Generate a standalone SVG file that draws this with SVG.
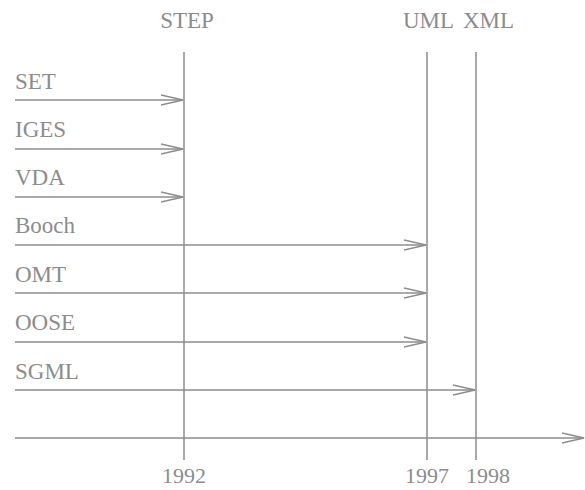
<svg xmlns="http://www.w3.org/2000/svg" width="585" height="490" viewBox="0 0 585 490">
<style>
.t{font-family:"Liberation Serif","Times New Roman",serif;font-size:23px;fill:#8c8c8c}
.y{font-size:22px}
.l{stroke:#8c8c8c;stroke-width:1.5;fill:none}
</style>
<defs>
<marker id="ah" markerUnits="userSpaceOnUse" markerWidth="24" markerHeight="14" refX="22" refY="6" orient="auto" viewBox="0 0 24 14">
<path d="M0,1 L22,6 L0,11" fill="none" stroke="#8c8c8c" stroke-width="1.5"/>
</marker>
</defs>
<rect width="585" height="490" fill="#fff"/>
<g id="milestones">
<g id="step"><text class="t" x="187" y="28" text-anchor="middle">STEP</text><line class="l" x1="184" y1="52" x2="184" y2="460"/><text class="t y" x="184" y="483" text-anchor="middle">1992</text></g>
<g id="uml"><text class="t" x="403" y="28">UML</text><line class="l" x1="427" y1="52" x2="427" y2="460"/><text class="t y" x="427" y="483" text-anchor="middle">1997</text></g>
<g id="xml"><text class="t" x="463" y="28">XML</text><line class="l" x1="476" y1="52" x2="476" y2="460"/><text class="t y" x="488" y="483" text-anchor="middle">1998</text></g>
</g>
<g id="labels">
<text class="t" x="15" y="89">SET</text>
<text class="t" x="15" y="137">IGES</text>
<text class="t" x="15" y="185">VDA</text>
<text class="t" x="15" y="233">Booch</text>
<text class="t" x="15" y="282">OMT</text>
<text class="t" x="15" y="330">OOSE</text>
<text class="t" x="15" y="379">SGML</text>
</g>
<g id="connectors">
<line class="l" x1="15" y1="100" x2="183" y2="100" marker-end="url(#ah)"/>
<line class="l" x1="15" y1="149" x2="183" y2="149" marker-end="url(#ah)"/>
<line class="l" x1="15" y1="197" x2="183" y2="197" marker-end="url(#ah)"/>
<line class="l" x1="15" y1="245" x2="426" y2="245" marker-end="url(#ah)"/>
<line class="l" x1="15" y1="293" x2="426" y2="293" marker-end="url(#ah)"/>
<line class="l" x1="15" y1="342" x2="426" y2="342" marker-end="url(#ah)"/>
<line class="l" x1="15" y1="390" x2="475" y2="390" marker-end="url(#ah)"/>
<line class="l" x1="15" y1="438" x2="584" y2="438" marker-end="url(#ah)"/>
</g>
</svg>
